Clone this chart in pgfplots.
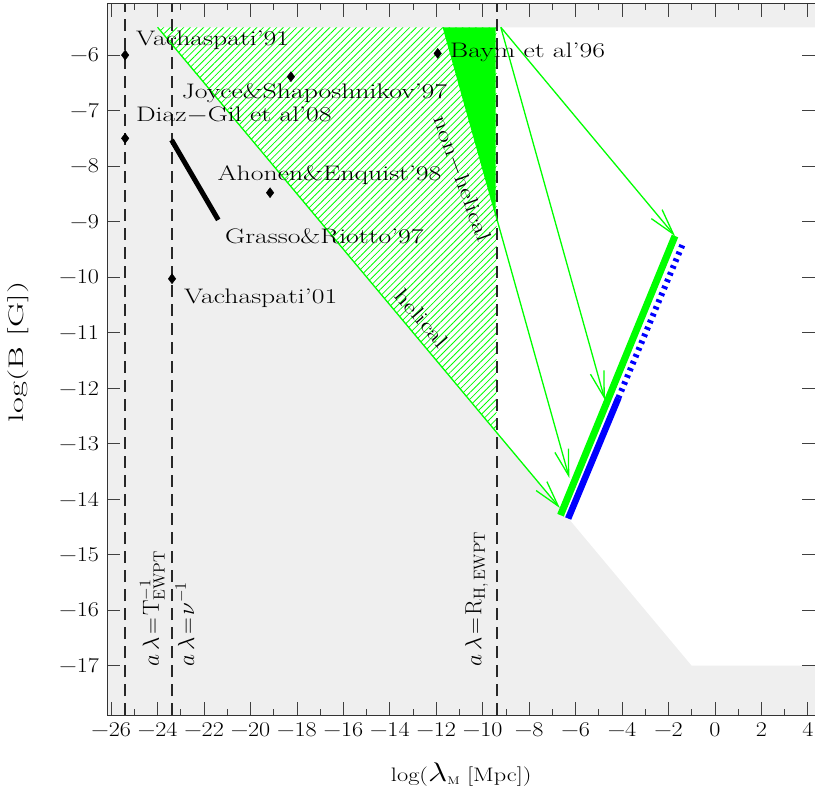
\documentclass[border=0pt]{standalone}
\usepackage{pgfplots}
\pgfplotsset{compat=1.18}
\usetikzlibrary{patterns.meta,arrows.meta}
\usepackage{graphicx}
\definecolor{bggray}{RGB}{239,239,239}
\definecolor{pgreen}{RGB}{0,255,0}
\definecolor{pblue}{RGB}{0,0,255}
\definecolor{dgray}{RGB}{40,40,40}
\newcommand{\lbl}[1]{\scalebox{1.32}[1]{\fontsize{21}{24}\selectfont #1}}
\newcommand{\vlbl}[1]{\scalebox{1.12}{\fontsize{20}{24}\selectfont #1}}
\newcommand{\tl}[1]{\scalebox{1.15}[1]{\fontsize{21}{23}\selectfont #1}}
\begin{document}
\begin{tikzpicture}
\begin{axis}[name=ax, scale only axis, width=707.5pt, height=711pt,
 xmin=-26.16, xmax=4.31, ymin=-17.89, ymax=-5.08,
 xtick={-26,-24,...,4}, minor x tick num=1,
 ytick={-17,-16,...,-6},
 tick align=inside, major tick length=13pt, minor tick length=6pt,
 every tick/.style={black!75, line width=0.8pt},
 axis line style={black!80, line width=1pt},
 axis background/.style={fill=bggray},
 axis on top,
 xticklabels={\tl{−26},\tl{−24},\tl{−22},\tl{−20},\tl{−18},\tl{−16},\tl{−14},\tl{−12},\tl{−10},\tl{−8},\tl{−6},\tl{−4},\tl{−2},\tl{0},\tl{2},\tl{4}},
 yticklabels={\tl{−17},\tl{−16},\tl{−15},\tl{−14},\tl{−13},\tl{−12},\tl{−11},\tl{−10},\tl{−9},\tl{−8},\tl{−7},\tl{−6}},
 xticklabel style={yshift=-4pt},
 yticklabel style={xshift=-5pt},
]
% white (allowed) region
\addplot[draw=none, fill=white] coordinates {(-24,-5.5) (4.5,-5.5) (4.5,-17) (-1,-17) (-24,-5.5)};
% hatched helical region
\addplot[draw=none, pattern={Lines[angle=45,distance=4.7pt,line width=0.8pt]}, pattern color=pgreen] coordinates {(-24,-5.5) (-9.4,-5.5) (-9.4,-12.8) (-24,-5.5)};
% non-helical filled wedge
\addplot[draw=none, fill=pgreen] coordinates {(-11.7,-5.5) (-9.45,-5.5) (-9.45,-8.86) (-11.7,-5.5)};
% dashed vertical lines
\addplot[dgray, line width=1.7pt, dash pattern=on 12pt off 7pt] coordinates {(-25.4,-17.89) (-25.4,-5.08)};
\addplot[dgray, line width=1.7pt, dash pattern=on 12pt off 7pt] coordinates {(-23.38,-17.89) (-23.38,-5.08)};
\addplot[dgray, line width=1.7pt, dash pattern=on 12pt off 7pt] coordinates {(-9.4,-17.89) (-9.4,-5.08)};
% arrows
\addplot[pgreen, line width=1.3pt, -{Straight Barb[length=26pt,width=14pt]}] coordinates {(-24,-5.5) (-6.68,-14.16)};
\addplot[pgreen, line width=1.3pt, -{Straight Barb[length=26pt,width=14pt]}] coordinates {(-11.7,-5.5) (-6.27,-13.62)};
\addplot[pgreen, line width=1.3pt, -{Straight Barb[length=26pt,width=14pt]}] coordinates {(-9.22,-5.5) (-4.74,-12.21)};
\addplot[pgreen, line width=1.3pt, -{Straight Barb[length=26pt,width=14pt]}] coordinates {(-9.22,-5.5) (-1.72,-9.26)};
% thick evolution lines
\addplot[pgreen, line width=7pt] coordinates {(-6.65,-14.29) (-1.72,-9.26)};
\addplot[pblue, line width=6.5pt] coordinates {(-6.32,-14.35) (-4.16,-12.18)};
\addplot[pblue, line width=6pt, dash pattern=on 3pt off 4.4pt] coordinates {(-4.16,-12.18) (-1.37,-9.39)};
% Grasso & Riotto
\addplot[black, line width=5pt] coordinates {(-23.4,-7.53) (-21.39,-8.97)};
% points
\addplot[only marks, mark=diamond*, mark size=5pt, black] coordinates {(-25.4,-6) (-25.4,-7.5) (-18.26,-6.39) (-19.16,-8.48) (-11.94,-5.97) (-23.38,-10.03)};
% labels
\node[anchor=west, inner sep=0] at (axis cs:-24.94,-5.73) {\lbl{Vachaspati'91}};
\node[anchor=west, inner sep=0] at (axis cs:-24.94,-7.08) {\lbl{Diaz$-$Gil et al'08}};
\node[anchor=west, inner sep=0] at (axis cs:-22.97,-6.68) {\lbl{Joyce\&Shaposhnikov'97}};
\node[anchor=west, inner sep=0] at (axis cs:-21.43,-8.16) {\lbl{Ahonen\&Enquist'98}};
\node[anchor=west, inner sep=0] at (axis cs:-21.1,-9.27) {\lbl{Grasso\&Riotto'97}};
\node[anchor=west, inner sep=0] at (axis cs:-22.87,-10.38) {\lbl{Vachaspati'01}};
\node[anchor=west, inner sep=0] at (axis cs:-11.41,-5.96) {\lbl{Baym et al'96}};
\node[rotate=-70, inner sep=0] at (axis cs:-10.9,-8.23) {\lbl{non$-$helical}};
\node[rotate=-49, inner sep=0] at (axis cs:-12.62,-10.74) {\lbl{helical}};
\node[rotate=90, anchor=west, inner sep=0] at (axis cs:-24.23,-17.02) {\vlbl{$a\,\lambda\!=\!\mathrm{T}^{-1}_{\mathrm{EWPT}}$}};
\node[rotate=90, anchor=west, inner sep=0] at (axis cs:-22.83,-17.02) {\vlbl{$a\,\lambda\!=\!\nu^{-1}$}};
\node[rotate=90, anchor=west, inner sep=0] at (axis cs:-10.26,-17.02) {\vlbl{$a\,\lambda\!=\!\mathrm{R}_{\mathrm{H,\,EWPT}}$}};
\end{axis}
\node[rotate=90] at ([xshift=-89.5pt,yshift=7.5pt]ax.west) {\scalebox{1.65}[1]{\fontsize{21}{24}\selectfont log(B [G])}};
\node at ([yshift=-60pt]ax.south) {\scalebox{1.25}[1]{\fontsize{19.5}{22}\selectfont log(\scalebox{1.3}{$\lambda$}\raisebox{-3pt}{\fontsize{11}{12}\selectfont M} [Mpc])}};
\pgfresetboundingbox
\useasboundingbox ([xshift=-107.5pt,yshift=-81pt]ax.south west) rectangle ([yshift=4pt]ax.north east);
\end{tikzpicture}
\end{document}
